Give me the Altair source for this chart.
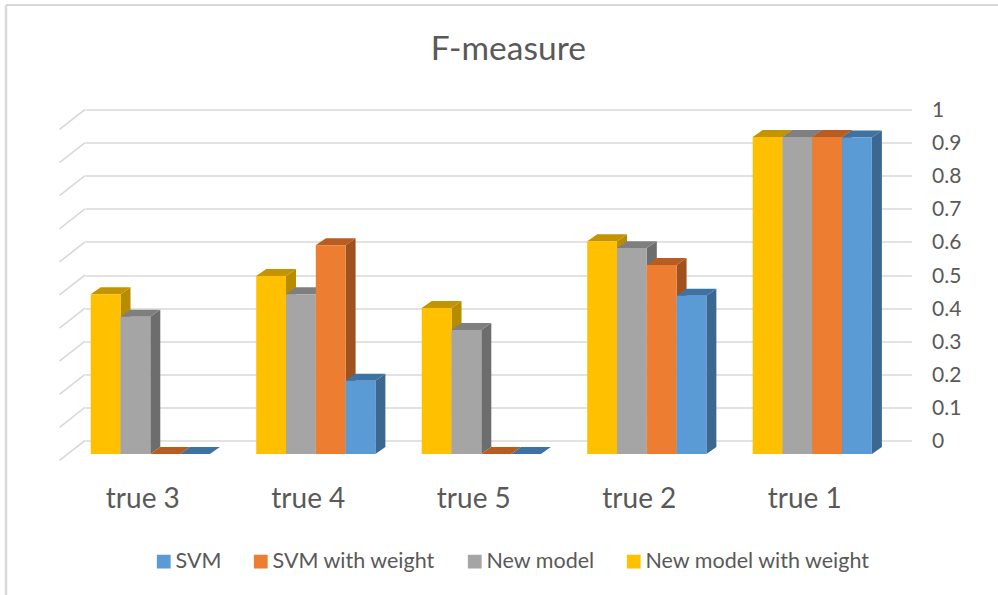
import altair as alt
import pandas as pd

categories = ["true 3", "true 4", "true 5", "true 2", "true 1"]
series = ["New model with weight", "New model", "SVM with weight", "SVM"]
legend_order = ["SVM", "SVM with weight", "New model", "New model with weight"]

new_model_with_weight = [0.483, 0.538, 0.441, 0.643, 0.958]
new_model = [0.415, 0.483, 0.375, 0.622, 0.958]
svm_with_weight = [0.0, 0.631, 0.0, 0.571, 0.958]
svm = [0.0, 0.221, 0.0, 0.478, 0.956]
values = [new_model_with_weight, new_model, svm_with_weight, svm]

top_colors = ["#C49400", "#7F7F7F", "#B85C22", "#3E72A3"]
side_colors = ["#B88C00", "#6D6D6D", "#A0521E", "#3B6791"]
legend_colors = ["#5B9BD5", "#ED7D31", "#A5A5A5", "#FFC000"]
y_ticks = [round(i / 10, 1) for i in range(11)]

# Depth of the oblique projection, in axis units
BAR_W = 0.18
BAR_DX = 0.0604
BAR_DY = 0.0211
BASE = -0.0408
FLOOR_DX = 0.154
FLOOR_DY = 0.0604
X_MIN, X_MAX = -0.3946, 4.5994

front_rows, side_rows, top_rows = [], [], []
for g in range(len(categories)):
    for s in range(len(series)):
        v = values[s][g]
        x0 = g + (s - 2) * BAR_W
        x1 = x0 + BAR_W
        top = BASE + v
        front_rows.append(dict(x=x0, x2=x1, y=top, y2=BASE, series=series[s]))
        bar_id = f"{g}-{s}"
        if v > 0:
            side_rows += [
                dict(id=bar_id, x=x1, y=top, y2=BASE, fill=side_colors[s]),
                dict(id=bar_id, x=x1 + BAR_DX, y=top + BAR_DY, y2=BASE + BAR_DY, fill=side_colors[s]),
            ]
        top_rows += [
            dict(id=bar_id, x=x0, y=top, y2=top, fill=top_colors[s]),
            dict(id=bar_id, x=x0 + BAR_DX, y=top + BAR_DY, y2=top, fill=top_colors[s]),
            dict(id=bar_id, x=x1, y=top + BAR_DY, y2=top, fill=top_colors[s]),
            dict(id=bar_id, x=x1 + BAR_DX, y=top + BAR_DY, y2=top + BAR_DY, fill=top_colors[s]),
        ]

x_scale = alt.Scale(domain=[X_MIN, X_MAX], nice=False, zero=False)
y_scale = alt.Scale(domain=[0, 1], nice=False, zero=False)
FONT = "Lato"
INK = "#595959"
GRID = "#D9D9D9"

label_lookup = "[" + ",".join(f"'{c}'" for c in categories) + "][datum.value]"
x_enc = alt.X(
    "x:Q",
    scale=x_scale,
    axis=alt.Axis(
        values=list(range(len(categories))),
        labelExpr=label_lookup,
        orient="bottom",
        title=None,
        grid=False,
        ticks=False,
        domain=False,
        labelFont=FONT,
        labelFontSize=28,
        labelColor=INK,
        labelPadding=45,
        labelOffset=-8,
        labelFlush=False,
        labelOverlap=False,
    ),
)
y_enc = alt.Y(
    "y:Q",
    scale=y_scale,
    stack=None,
    axis=alt.Axis(
        values=y_ticks,
        format="~g",
        orient="right",
        title=None,
        grid=True,
        gridColor=GRID,
        gridWidth=1.6,
        ticks=False,
        domain=False,
        labelFont=FONT,
        labelFontSize=21,
        labelColor=INK,
        labelPadding=20,
        labelOffset=1,
        labelAlign="left",
        labelFlush=False,
        labelOverlap=False,
    ),
)

# Floor lines running forward from the back wall
floor_df = pd.DataFrame(
    [dict(x=X_MIN, x2=X_MIN - FLOOR_DX, y=t, y2=t - FLOOR_DY) for t in y_ticks]
)
floor = alt.Chart(floor_df).mark_rule(color=GRID, strokeWidth=1.6).encode(
    x=x_enc, x2="x2:Q", y=y_enc, y2="y2:Q"
)

sides = alt.Chart(pd.DataFrame(side_rows)).mark_area(orient="vertical").encode(
    x=x_enc,
    y=y_enc,
    y2="y2:Q",
    detail="id:N",
    color=alt.Color("fill:N", scale=None),
)
tops = alt.Chart(pd.DataFrame(top_rows)).mark_area(orient="vertical").encode(
    x=x_enc,
    y=y_enc,
    y2="y2:Q",
    detail="id:N",
    color=alt.Color("fill:N", scale=None),
)
fronts = alt.Chart(pd.DataFrame(front_rows)).mark_bar().encode(
    x=x_enc,
    x2="x2:Q",
    y=y_enc,
    y2="y2:Q",
    fill=alt.Fill(
        "series:N",
        scale=alt.Scale(domain=legend_order, range=legend_colors),
        sort=legend_order,
        legend=alt.Legend(
            title=None,
            orient="none",
            direction="horizontal",
            columns=4,
            legendX=68,
            legendY=441,
            symbolType="square",
            symbolSize=190,
            symbolStrokeWidth=0,
            labelFont=FONT,
            labelFontSize=21.5,
            labelColor=INK,
            labelLimit=320,
            labelOffset=1,
            columnPadding=28,
        ),
    ),
)

# Frame lines along the top and left edges of the figure
frame_top = alt.Chart(pd.DataFrame({"k": [0]})).mark_rule(color=GRID, strokeWidth=2).encode(
    x=alt.value(-79), x2=alt.value(913), y=alt.value(-104.5), y2=alt.value(-104.5)
)
frame_left = alt.Chart(pd.DataFrame({"k": [0]})).mark_rule(color=GRID, strokeWidth=2.5).encode(
    x=alt.value(-79), x2=alt.value(-79), y=alt.value(-104.5), y2=alt.value(486)
)

chart = (
    alt.layer(frame_top, frame_left, floor, sides, tops, fronts)
    .properties(
        width=826.5,
        height=331,
        padding={"left": 85, "top": 109.5, "right": 86.5, "bottom": 154.5},
        autosize=alt.AutoSizeParams(type="none"),
        background="#FFFFFF",
        title=alt.TitleParams(
            "F-measure",
            font=FONT,
            fontSize=33.5,
            fontWeight="normal",
            color=INK,
            anchor="middle",
            frame="group",
            dx=10,
            offset=-64,
        ),
    )
    .configure_view(stroke=None)
)

chart.save("out.html", embed_options={"renderer": "svg", "actions": False})
